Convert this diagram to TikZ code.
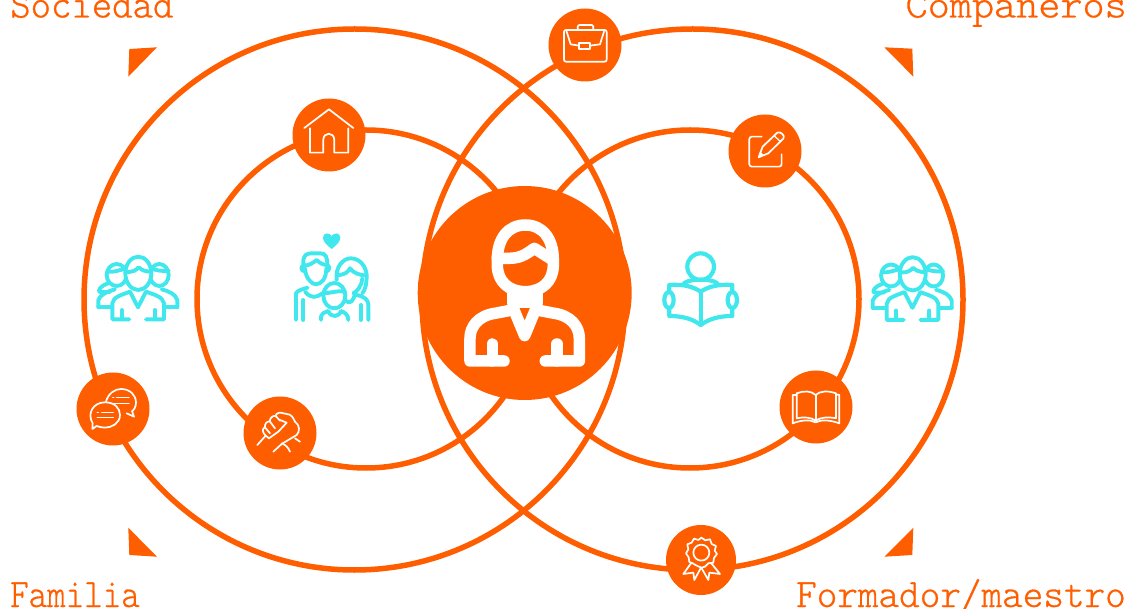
\documentclass[tikz,border=0pt]{standalone}
\usepackage{fontspec}
\newfontfamily\labelfont[FakeBold=0.7]{Latin Modern Mono Light}
\definecolor{orng}{HTML}{FF5E00}
\definecolor{cyn}{HTML}{40E8EE}
\tikzset{
  ring/.style={draw=orng,line width=5.5pt},
  disc/.style={circle,fill=orng,minimum size=#1,inner sep=0pt},
  corner/.style={fill=orng,draw=none},
  zoomed/.style={x=0.3333pt,y=-0.3333pt,line cap=round,line join=round},
  whitethin/.style={draw=white,line width=1.7pt},
  cyanline/.style={draw=cyn,line width=3.9pt},
  lbl/.style={font=\labelfont\fontsize{36}{36}\selectfont,text=orng,inner sep=0pt,transform shape,yscale=1.12},
}
\newcommand{\groupicon}{%
  \draw[cyanline] (145,190) .. controls (120,198) and (115,210) .. (118,216) -- (150,216);
  \draw[cyanline] (170,165) ellipse [x radius=30,y radius=33];
  \draw[cyanline] (298,165) ellipse [x radius=28,y radius=33];
  \draw[cyanline] (142,155) .. controls (160,158) and (180,150) .. (198,145);
  \draw[cyanline] (272,145) .. controls (285,150) and (305,155) .. (326,152);
  \draw[cyanline] (115,262) -- (115,240) .. controls (120,225) and (140,215) .. (165,208);
  \draw[cyanline] (115,262) -- (155,262);
  \draw[cyanline] (352,262) -- (352,240) .. controls (345,222) and (330,215) .. (305,208);
  \draw[cyanline] (352,262) -- (312,262);
  \path[fill=white] (157,298) -- (157,250) .. controls (160,230) and (185,225) .. (210,215) -- (258,215) .. controls (285,225) and (308,230) .. (312,250) -- (312,298) -- cycle;
  \draw[cyanline,fill=white] (235,160) ellipse [x radius=39,y radius=50];
  \draw[cyanline] (197,155) .. controls (220,158) and (228,150) .. (236,142) .. controls (245,150) and (255,155) .. (272,155);
  \draw[cyanline] (208,298) -- (157,298) -- (157,250) .. controls (160,230) and (185,225) .. (210,215) -- (234,262) -- (258,215) .. controls (285,225) and (308,230) .. (312,250) -- (312,298) -- (258,298);
  \draw[cyanline] (185,298) -- (185,270);
  \draw[cyanline] (285,298) -- (285,270);
}
\begin{document}
\begin{tikzpicture}[x=1pt,y=-1pt]
\useasboundingbox (0,0) rectangle (1146,609);
% rings
\draw[ring] (354.5,299.5) circle [radius=270.5];
\draw[ring] (692.5,299.5) circle [radius=270.5];
\draw[ring] (366,299) circle [radius=169];
\draw[ring] (690,299) circle [radius=169];
% corners
\fill[corner] (129.3,49) -- (157,47.3) -- (128.3,76.7) -- cycle;
\fill[corner] (884.3,47.3) -- (912.3,48.7) -- (913.3,76.7) -- cycle;
\fill[corner] (128.3,527.7) -- (129.3,555) -- (157,556.7) -- cycle;
\fill[corner] (913.3,527.7) -- (912.3,555) -- (884.3,556.7) -- cycle;
% labels
\node[lbl,anchor=base west,xscale=1.08] (soc) at (10,17.5) {Sociedad};
\node[lbl,anchor=base east,xscale=1.17] (com) at (1127,17.5) {Compañeros};
\node[lbl,anchor=base west,xscale=0.98] (fam) at (10,607) {Familia};
\node[lbl,anchor=base east,xscale=1.09] (for) at (1126,607) {Formador/maestro};
% discs
\node[disc=214pt] (centre) at (524.7,293) {};
\node[disc=73pt] (brief) at (585,45) {};
\node[disc=73pt] (home) at (329,135) {};
\node[disc=73pt] (note) at (765,151) {};
\node[disc=73pt] (book) at (816,407) {};
\node[disc=70pt] (award) at (701,560) {};
\node[disc=73pt] (chat) at (113,409) {};
\node[disc=73pt] (hands) at (280,433) {};
% central person
\begin{scope}[shift={(400,170)},zoomed]
  \begin{scope}[draw=white,line width=11.5pt]
    \draw (292,270) .. controls (292,205) and (325,165) .. (376,165) .. controls (427,165) and (460,205) .. (460,270) -- (460,285) .. controls (460,335) and (425,365) .. (376,365) .. controls (327,365) and (292,335) .. (292,285) -- cycle;
    \draw (292,265) -- (325,265) .. controls (360,265) and (375,255) .. (403,235) -- (455,268);
    \draw (337,370) -- (337,398) -- (411,398) -- (411,370);
    \draw (342,420) -- (374,497) -- (406,420);
    \draw (337,420) -- (285,430) .. controls (235,437) and (210,470) .. (210,505) -- (210,573) -- (312,573);
    \draw (411,420) -- (463,430) .. controls (513,437) and (538,470) .. (538,505) -- (538,573) -- (436,573);
    \draw (277,573) -- (277,522);
    \draw (471,573) -- (471,522);
  \end{scope}
\end{scope}
% reader
\begin{scope}[shift={(400,170)},zoomed]
  \draw[cyanline,line width=4.2pt] (902,290) circle [radius=40];
  \draw[cyanline,line width=4.2pt] (852,340) .. controls (870,325) and (935,325) .. (952,340);
  \draw[cyanline,line width=4.2pt] (808,345) .. controls (850,342) and (880,350) .. (902,365) .. controls (925,350) and (955,342) .. (997,345) -- (997,438) .. controls (955,438) and (925,448) .. (902,465) .. controls (880,448) and (850,438) .. (808,438) -- cycle;
  \draw[cyanline,line width=4.2pt] (902,365) -- (902,465);
  \draw[cyanline,line width=4.2pt,fill=white] (807,390) ellipse [x radius=14,y radius=24];
  \draw[cyanline,line width=4.2pt,fill=white] (997,390) ellipse [x radius=14,y radius=24];
\end{scope}
% groups
\begin{scope}[shift={(60,220)},zoomed]\groupicon\end{scope}
\begin{scope}[shift={(834.4,220.5)},zoomed]\groupicon\end{scope}
% family
\begin{scope}[shift={(285,225)},zoomed]
  \fill[cyn] (140,72) .. controls (125,60) and (114,50) .. (114,38) .. controls (114,22) and (134,22) .. (140,33) .. controls (146,22) and (166,22) .. (166,38) .. controls (166,50) and (155,60) .. (140,72) -- cycle;
  % mother
  \draw[cyanline] (155,165) .. controls (150,125) and (175,100) .. (197,100) .. controls (225,100) and (243,125) .. (245,150) .. controls (245,180) and (240,195) .. (232,205);
  \draw[cyanline] (158,150) .. controls (180,150) and (190,140) .. (195,130) .. controls (205,145) and (225,150) .. (243,152);
  \draw[cyanline] (232,160) .. controls (230,185) and (215,200) .. (205,205);
  \draw[cyanline] (180,225) .. controls (195,240) and (205,230) .. (210,205);
  \draw[cyanline] (215,210) .. controls (240,215) and (250,225) .. (250,240) -- (250,285);
  \draw[cyanline] (228,285) -- (228,240);
  % father
  \draw[cyanline] (60,130) .. controls (62,165) and (85,178) .. (92,178) .. controls (110,178) and (124,160) .. (124,130);
  \draw[cyanline] (60,140) .. controls (45,135) and (48,125) .. (55,122) -- (55,105) .. controls (58,90) and (65,85) .. (80,85) -- (105,85) .. controls (122,85) and (127,95) .. (127,120) .. controls (135,125) and (135,135) .. (124,140);
  \draw[cyanline] (55,122) .. controls (75,122) and (85,112) .. (95,105) .. controls (105,115) and (115,120) .. (127,120);
  \draw[cyanline] (33,285) -- (33,205) .. controls (37,197) and (50,193) .. (68,188);
  \draw[cyanline] (55,285) -- (55,225);
  \draw[cyanline] (60,200) .. controls (78,222) and (95,218) .. (112,205);
  % child
  \draw[cyanline,fill=white] (148,212) ellipse [x radius=33,y radius=38];
  \draw[cyanline] (115,205) .. controls (135,205) and (160,195) .. (180,200);
  \draw[cyanline] (108,285) -- (108,275) .. controls (112,265) and (120,260) .. (130,258) .. controls (136,278) and (162,278) .. (168,258) .. controls (180,262) and (190,270) .. (190,285);
\end{scope}
% home
\begin{scope}[shift={(0,0)},zoomed]
  \draw[whitethin] (913,384) -- (987,328) -- (1060,384);
  \draw[whitethin] (930,385) -- (930,458) -- (970,458) -- (970,420) .. controls (970,395) and (1003,395) .. (1003,420) -- (1003,458) -- (1045,458) -- (1045,385);
\end{scope}
% briefcase, note
\begin{scope}[shift={(540,0)},zoomed]
  \draw[whitethin,rounded corners=2pt] (72,90) rectangle (200,185);
  \draw[whitethin] (80,95) -- (92,133) -- (118,137);
  \draw[whitethin] (192,95) -- (180,133) -- (150,137);
  \draw[whitethin] (118,128) rectangle (150,147);
  \draw[whitethin,rounded corners=1.5pt] (113,90) -- (113,75) -- (160,75) -- (160,90);
  \draw[whitethin,rounded corners=2.5pt] (665,410) -- (628,410) -- (628,500) -- (725,500) -- (725,463);
  \draw[whitethin] (656,472) -- (668,440) -- (712,398) .. controls (720,392) and (738,408) .. (730,416) -- (685,460) -- cycle;
  \fill[white] (656,472) -- (660,455) -- (673,466) -- cycle;
  \draw[whitethin,line width=1.2pt] (703,408) -- (722,425);
\end{scope}
% book, award
\begin{scope}[shift={(640,360)},zoomed]
  \draw[whitethin] (470,100) .. controls (490,92) and (515,92) .. (527,105) .. controls (540,92) and (565,92) .. (588,100) -- (588,175) .. controls (565,170) and (540,172) .. (527,182) .. controls (515,172) and (490,170) .. (470,175) -- cycle;
  \draw[whitethin] (527,105) -- (527,182);
  \draw[whitethin] (470,105) -- (458,105) -- (458,190) .. controls (485,180) and (510,178) .. (527,187) .. controls (545,178) and (570,180) .. (598,190) -- (598,105) -- (588,103);
  \draw[whitethin] (184,578) circle [radius=24];
  \draw[whitethin] (184,533) -- (196,541) -- (210,538) -- (215,552) -- (228,558) -- (224,572) -- (231,582) -- (222,594) -- (220,608) -- (205,610) -- (195,620) -- (184,623) -- (170,617) -- (158,610) -- (148,606) -- (146,592) -- (138,580) -- (145,568) -- (142,553) -- (155,548) -- (162,536) -- (175,540) -- cycle;
  \draw[whitethin] (153,610) -- (130,642) -- (160,638) -- (163,660) -- (182,625);
  \draw[whitethin] (214,610) -- (240,642) -- (208,638) -- (205,660) -- (185,625);
\end{scope}
% chat
\begin{scope}[shift={(60,220)},zoomed]
  \draw[whitethin] (138,545) .. controls (145,520) and (165,507) .. (183,507) .. controls (210,507) and (228,525) .. (228,548) .. controls (228,560) and (222,570) .. (216,574) -- (222,590) -- (200,580);
  \draw[whitethin,fill=orng] (98,610) .. controls (80,580) and (100,547) .. (135,547) .. controls (165,547) and (180,565) .. (180,585) .. controls (180,610) and (155,623) .. (135,623) .. controls (125,623) and (115,620) .. (110,618) -- (97,627) -- cycle;
  \draw[whitethin,line width=1.4pt] (125,577) -- (160,577) (112,593) -- (160,593) (112,577) -- (115,577);
  \draw[whitethin,line width=1.4pt] (170,533) -- (207,533) (158,550) -- (207,550) (158,533) -- (161,533);
\end{scope}
% hands
\begin{scope}[shift={(245,400)},zoomed]
  \draw[whitethin] (37,135) -- (62,107);
  \draw[whitethin] (62,107) .. controls (50,95) and (52,85) .. (60,82) .. controls (58,70) and (68,62) .. (75,65) .. controls (72,55) and (85,45) .. (92,48) .. controls (92,38) and (108,36) .. (115,40) -- (125,42) .. controls (140,42) and (145,55) .. (150,65) .. controls (165,75) and (165,95) .. (155,105) -- (110,132) -- (85,155);
  \draw[whitethin] (62,107) -- (72,115) -- (100,95) -- (125,68) -- (105,60);
  \draw[whitethin] (60,82) -- (75,100);
  \draw[whitethin] (75,65) -- (90,85);
  \draw[whitethin] (92,48) -- (105,62);
  \draw[whitethin] (150,115) -- (165,125);
  \draw[whitethin] (110,130) .. controls (122,135) and (130,142) .. (135,155);
\end{scope}
\end{tikzpicture}
\end{document}
